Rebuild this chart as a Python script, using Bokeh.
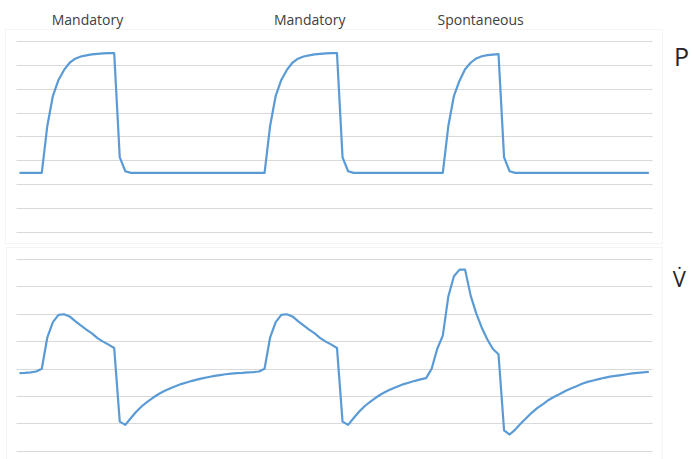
from bokeh.plotting import figure
from bokeh.models import (Range1d, Grid, FixedTicker, Label, ColumnDataSource,
                          BoxAnnotation)
from bokeh.embed import file_html
from bokeh.resources import INLINE

# ---- data ----
sample = list(range(114))

pressure = [
    2.5, 2.5, 2.5, 2.5, 2.5,
    4.47, 5.72, 6.38, 6.8, 7.1, 7.27, 7.36, 7.41, 7.45, 7.47, 7.49, 7.5, 7.5,
    3.15, 2.57,
    2.5, 2.5, 2.5, 2.5, 2.5, 2.5, 2.5, 2.5, 2.5, 2.5, 2.5, 2.5, 2.5,
    2.5, 2.5, 2.5, 2.5, 2.5, 2.5, 2.5, 2.5, 2.5, 2.5, 2.5, 2.5,
    4.47, 5.72, 6.38, 6.8, 7.1, 7.27, 7.36, 7.41, 7.45, 7.47, 7.49, 7.5, 7.5,
    3.15, 2.57,
    2.5, 2.5, 2.5, 2.5, 2.5, 2.5, 2.5, 2.5, 2.5, 2.5, 2.5, 2.5, 2.5, 2.5, 2.5, 2.5, 2.5,
    4.47, 5.72, 6.35, 6.83, 7.1, 7.28, 7.37, 7.42, 7.44, 7.46,
    3.15, 2.57,
    2.5, 2.5, 2.5, 2.5, 2.5, 2.5, 2.5, 2.5, 2.5, 2.5, 2.5, 2.5, 2.5,
    2.5, 2.5, 2.5, 2.5, 2.5, 2.5, 2.5, 2.5, 2.5, 2.5, 2.5, 2.5,
]

flow = [
    2.85, 2.86, 2.88, 2.91, 3.01,
    4.16, 4.71, 4.98, 5.0, 4.92, 4.75, 4.59, 4.44, 4.30, 4.13, 4.0, 3.89, 3.77,
    1.08, 0.96,
    1.21, 1.45, 1.65, 1.81, 1.96, 2.09, 2.20, 2.29, 2.37, 2.45, 2.51, 2.57,
    2.62, 2.67, 2.71, 2.75, 2.78, 2.81, 2.83, 2.85, 2.86, 2.88, 2.89, 2.91,
    3.01,
    4.16, 4.71, 4.98, 5.0, 4.92, 4.75, 4.59, 4.44, 4.30, 4.13, 4.0, 3.89, 3.77,
    1.08, 0.96,
    1.21, 1.45, 1.65, 1.81, 1.96, 2.09, 2.20, 2.29, 2.37, 2.45, 2.51, 2.57, 2.62, 2.67,
    3.01, 3.74, 4.22, 5.66, 6.39, 6.63, 6.63, 5.68, 5.03, 4.51, 4.08, 3.73, 3.54,
    0.76, 0.61,
    0.79, 1.01, 1.21, 1.41, 1.58, 1.72, 1.87, 1.99, 2.09, 2.20, 2.29, 2.37, 2.46,
    2.53, 2.58, 2.63, 2.68, 2.72, 2.75, 2.78, 2.81, 2.84, 2.86, 2.88, 2.90,
]

breath_labels = ["Mandatory", "Mandatory", "Spontaneous"]
pressure_ticks = [0, 1, 2, 3, 4, 5, 6, 7, 8]
flow_ticks = [0, 1, 2, 3, 4, 5, 6, 7]
panel_labels = ["P", "V\u0307"]

# ---- styling ----
LINE = "#5B9BD5"
GRID = "#D9D9D9"
BORDER = "#D9D9D9"
FONT = "Open Sans"

src = ColumnDataSource(dict(i=sample, p=pressure, f=flow))

p = figure(width=691, height=459,
           x_range=Range1d(-3.411, 120.65), y_range=Range1d(-9.466, 9.699),
           x_axis_type=None, y_axis_type=None,
           output_backend="svg", toolbar_location=None,
           min_border=0, min_border_left=0, min_border_right=0,
           min_border_top=0, min_border_bottom=0)
p.extra_y_ranges = {"flow": Range1d(-0.303, 16.455)}
p.outline_line_color = None
p.background_fill_color = "white"
p.border_fill_color = "white"

grid_x_extent = (-0.54, 113.59)

# panel frames
p.add_layout(BoxAnnotation(left=-2.513, right=115.44, top=8.49, bottom=-0.447,
                           fill_alpha=0, line_color=BORDER, line_width=1,
                           level="underlay"))
p.add_layout(BoxAnnotation(left=-2.334, right=115.386, top=7.437, bottom=-0.6,
                           y_range_name="flow",
                           fill_alpha=0, line_color=BORDER, line_width=1,
                           level="underlay"))

# gridlines
p.add_layout(Grid(dimension=1, ticker=FixedTicker(ticks=pressure_ticks),
                  cross_bounds=grid_x_extent,
                  grid_line_color=GRID, grid_line_width=1))
p.add_layout(Grid(dimension=1, ticker=FixedTicker(ticks=flow_ticks),
                  cross_bounds=grid_x_extent, y_range_name="flow",
                  grid_line_color=GRID, grid_line_width=1))

# curves
p.line("i", "p", source=src, line_color=LINE, line_width=2.2, line_join="round")
p.line("i", "f", source=src, y_range_name="flow",
       line_color=LINE, line_width=2.2, line_join="round")

# breath-type labels
label_x = [12.2, 52.1, 82.8]
for lx, txt in zip(label_x, breath_labels):
    p.add_layout(Label(x=lx, y=8.894, text=txt, text_align="center",
                       text_baseline="alphabetic", text_font=FONT,
                       text_font_size="14px", text_color="#404040"))

# panel labels
p.add_layout(Label(x=117.5, y=7.40, text=panel_labels[0], text_align="left",
                   text_baseline="alphabetic", text_font=FONT,
                   text_font_size="25px", text_color="#262626"))
p.add_layout(Label(x=117.3, y=6.33, text=panel_labels[1], text_align="left",
                   text_baseline="alphabetic", text_font=FONT,
                   text_font_size="22px", text_color="#262626",
                   y_range_name="flow"))

open("out.html", "w").write(file_html(p, INLINE))
